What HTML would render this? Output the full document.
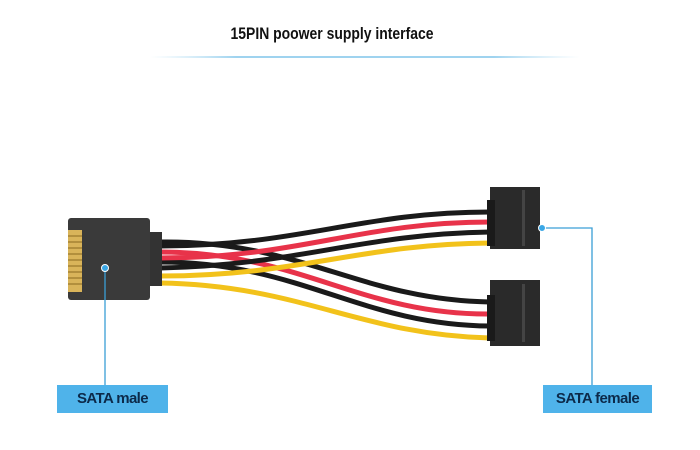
<!DOCTYPE html>
<html><head><style>
html,body{margin:0;padding:0;background:#fff;}
body{width:700px;height:450px;position:relative;overflow:hidden;font-family:"Liberation Sans",sans-serif;}
.t{position:absolute;left:-18px;width:700px;top:24px;text-align:center;font-weight:bold;font-size:17px;color:#111;transform:scaleX(0.82);}
.lbl{position:absolute;background:#4fb3ea;color:#0c2a4a;font-weight:bold;font-size:15px;text-align:center;line-height:28px;height:28px;letter-spacing:-0.6px}
</style></head><body>
<svg width="700" height="450" style="position:absolute;left:0;top:0">
<defs><linearGradient id="g" x1="0" x2="1"><stop offset="0" stop-color="#bfe3f5" stop-opacity="0"/><stop offset="0.2" stop-color="#9fd3ef"/><stop offset="0.8" stop-color="#9fd3ef"/><stop offset="1" stop-color="#bfe3f5" stop-opacity="0"/></linearGradient></defs>
<rect x="150" y="56" width="430" height="2" fill="url(#g)"/>
<g fill="none" stroke-linecap="round">
<g stroke-width="5">
<path d="M160 283 C300 285,360 335,490 338" stroke="#f2c21b"/>
<path d="M160 262 C300 262,360 325,490 326" stroke="#1a1a1a"/>
<path d="M160 252 C300 252,360 315,490 314" stroke="#e8334a"/>
<path d="M160 242 C300 240,360 300,490 302" stroke="#1a1a1a"/>
</g>
<g stroke-width="5">
<path d="M160 276 C300 276,360 244,490 243" stroke="#f2c21b"/>
<path d="M160 268 C300 265,360 234,490 232" stroke="#1a1a1a"/>
<path d="M160 258 C300 258,360 222,490 222" stroke="#e8334a"/>
<path d="M160 246 C300 246,360 212,490 212" stroke="#1a1a1a"/>
</g>
</g>
<rect x="148" y="232" width="14" height="54" fill="#333"/>
<rect x="68" y="218" width="82" height="82" rx="3" fill="#3a3a3a"/>
<rect x="68" y="230" width="14" height="62" fill="#d9b45a"/>
<g stroke="#8a6a20" stroke-width="1">
<line x1="68" y1="236" x2="82" y2="236"/><line x1="68" y1="242" x2="82" y2="242"/><line x1="68" y1="248" x2="82" y2="248"/><line x1="68" y1="254" x2="82" y2="254"/><line x1="68" y1="260" x2="82" y2="260"/><line x1="68" y1="266" x2="82" y2="266"/><line x1="68" y1="272" x2="82" y2="272"/><line x1="68" y1="278" x2="82" y2="278"/><line x1="68" y1="284" x2="82" y2="284"/>
</g>
<rect x="490" y="187" width="50" height="62" fill="#2a2a2a"/>
<rect x="487" y="200" width="8" height="46" fill="#1a1a1a"/>
<rect x="522" y="190" width="3" height="56" fill="#444"/>
<rect x="490" y="280" width="50" height="66" fill="#2a2a2a"/>
<rect x="487" y="295" width="8" height="46" fill="#1a1a1a"/>
<rect x="522" y="284" width="3" height="58" fill="#444"/>
<g stroke="#3a9fd6" stroke-width="1.3" fill="none">
<line x1="105" y1="268" x2="105" y2="385"/>
<polyline points="542,228 592,228 592,385"/>
</g>
<circle cx="105" cy="268" r="3.5" fill="#3aa7e6" stroke="#fff" stroke-width="1"/>
<circle cx="542" cy="228" r="3.5" fill="#3aa7e6" stroke="#fff" stroke-width="1"/>
</svg>
<div class="t">15PIN poower supply interface</div>
<div class="lbl" style="left:57px;top:385px;width:111px">SATA male</div>
<div class="lbl" style="left:543px;top:385px;width:109px">SATA female</div>
</body></html>
